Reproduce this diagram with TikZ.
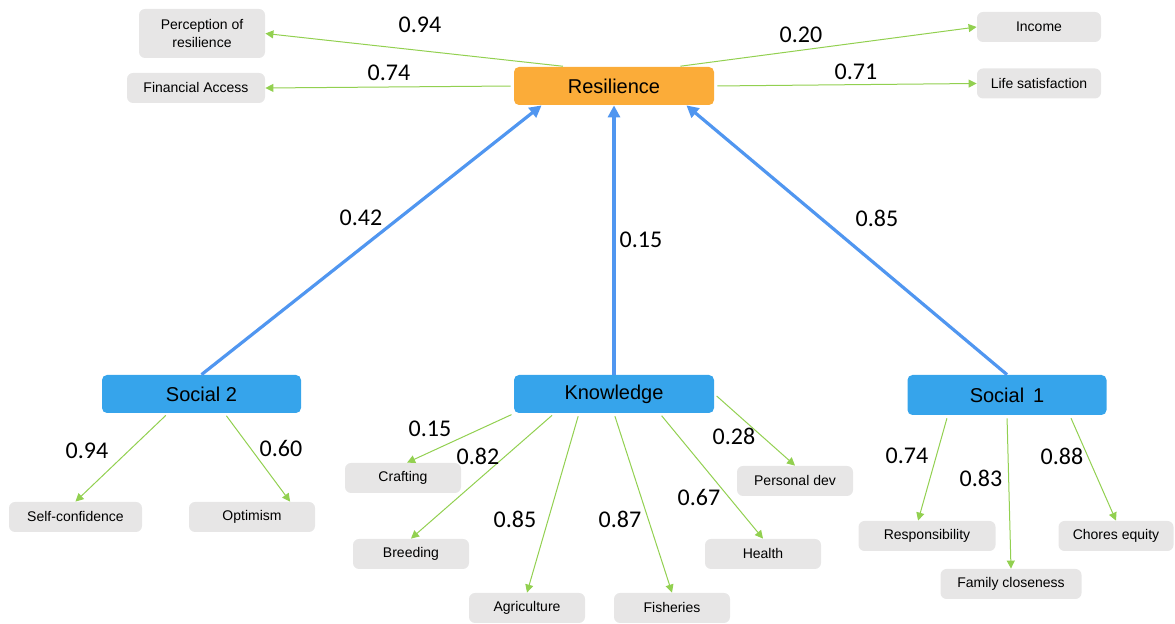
\documentclass[tikz,border=0pt]{standalone}
\usepackage{fontspec}
\setmainfont{Carlito}
\setsansfont{Liberation Sans}
\usetikzlibrary{arrows.meta}
\definecolor{resOrange}{RGB}{251,172,57}
\definecolor{resBlue}{RGB}{54,164,235}
\definecolor{resGrey}{RGB}{231,230,230}
\definecolor{resGreen}{RGB}{146,208,80}
\definecolor{resArrowBlue}{RGB}{80,150,240}

\begin{document}
\begin{tikzpicture}[
  x=0.5pt, y=-0.5pt,
  factor/.style={
    fill=resBlue,
    rounded corners=2.5pt,
    minimum width=100pt,
    minimum height=19pt,
    inner sep=0pt,
    font=\sffamily\fontsize{10}{12}\selectfont
  },
  item/.style={
    fill=resGrey,
    rounded corners=3pt,
    minimum width=#1,
    minimum height=15pt,
    inner sep=0pt,
    align=center,
    font=\sffamily\fontsize{7}{9}\selectfont
  },
  item/.default=58pt,
  loading/.style={-{Triangle[length=4pt,width=4pt]},resGreen,line width=0.5pt,shorten <=1.5pt},
  effect/.style={-{Triangle[length=6pt,width=6pt]},resArrowBlue,line width=1.6pt},
  coef/.style={font=\fontsize{12}{14}\selectfont}
]
  \useasboundingbox (0,0) rectangle (1175,624);

  % latent factors
  \node[factor,fill=resOrange] (res) at (614,86) {Resilience};
  \node[factor,minimum width=99.5pt] (soc2) at (201.5,394) {Social 2};
  \node[factor] (know) at (614,394) {Knowledge};
  \node[factor,minimum width=99.5pt,minimum height=20pt] (soc1) at (1007,395) {Social\, 1};

  % resilience indicators
  \node[item=63pt,minimum height=24.5pt] (perc) at (202,33.5) {Perception of\\resilience};
  \node[item=69pt] (fin) at (196,88) {Financial Access};
  \node[item=62pt] (inc) at (1039,27) {Income};
  \node[item=62pt] (life) at (1039,83.5) {Life satisfaction};

  % social 2 indicators
  \node[item=66.5pt] (selfconf) at (75.5,517) {Self-confidence};
  \node[item=63pt] (optim) at (252,517) {Optimism};

  % knowledge indicators
  \node[item] (craft) at (403,478) {Crafting};
  \node[item] (breed) at (411,554) {Breeding};
  \node[item] (agri) at (527,608) {Agriculture};
  \node[item] (fish) at (672,608) {Fisheries};
  \node[item] (health) at (763,554) {Health};
  \node[item] (persdev) at (795,481) {Personal dev};

  % social 1 indicators
  \node[item=68.5pt] (resp) at (927,536) {Responsibility};
  \node[item=70.5pt] (family) at (1011,584) {Family closeness};
  \node[item=57.5pt] (chores) at (1116,536) {Chores equity};

  % structural paths
  \draw[effect] (soc2.north) -- (res.195);
  \draw[effect] (know.north) -- (res.south);
  \draw[effect] (soc1.north) -- (res.345);

  % loadings
  \draw[loading] (res.158) -- (perc.east);
  \draw[loading] (res.west) -- (fin.east);
  \draw[loading] (res.17) -- (inc.west);
  \draw[loading] (res.east) -- (life.west);
  \draw[loading] (soc2.210) -- (selfconf.north);
  \draw[loading] (soc2.320) -- (optim.22);
  \draw[loading] (know.191) -- (craft.75);
  \draw[loading] (know.198) -- (breed.north);
  \draw[loading] (know.209) -- (agri.north);
  \draw[loading] (know.south) -- (fish.north);
  \draw[loading] (know.337) -- (health.north);
  \draw[loading] (know.east) -- (persdev.north);
  \draw[loading] (soc1.199) -- (resp.120);
  \draw[loading] (soc1.south) -- (family.north);
  \draw[loading] (soc1.342) -- (chores.north);

  % coefficients
  \node[coef] (cperc) at (420,25) {0.94};
  \node[coef] (cfin) at (389,73) {0.74};
  \node[coef] (cinc) at (801,35) {0.20};
  \node[coef] (clife) at (856,72) {0.71};
  \node[coef] (csoc2) at (361,218) {0.42};
  \node[coef] (cknow) at (641,240) {0.15};
  \node[coef] (csoc1) at (877,218) {0.85};
  \node[coef] (cself) at (87,451) {0.94};
  \node[coef] (coptim) at (281,448) {0.60};
  \node[coef] (ccraft) at (430,429) {0.15};
  \node[coef] (cbreed) at (478,456) {0.82};
  \node[coef] (cagri) at (515,519) {0.85};
  \node[coef] (cfish) at (620,519) {0.87};
  \node[coef] (chealth) at (699,497) {0.67};
  \node[coef] (cpers) at (734,436) {0.28};
  \node[coef] (cresp) at (907,456) {0.74};
  \node[coef] (cfam) at (981,478) {0.83};
  \node[coef] (cchores) at (1062,456) {0.88};
\end{tikzpicture}
\end{document}
